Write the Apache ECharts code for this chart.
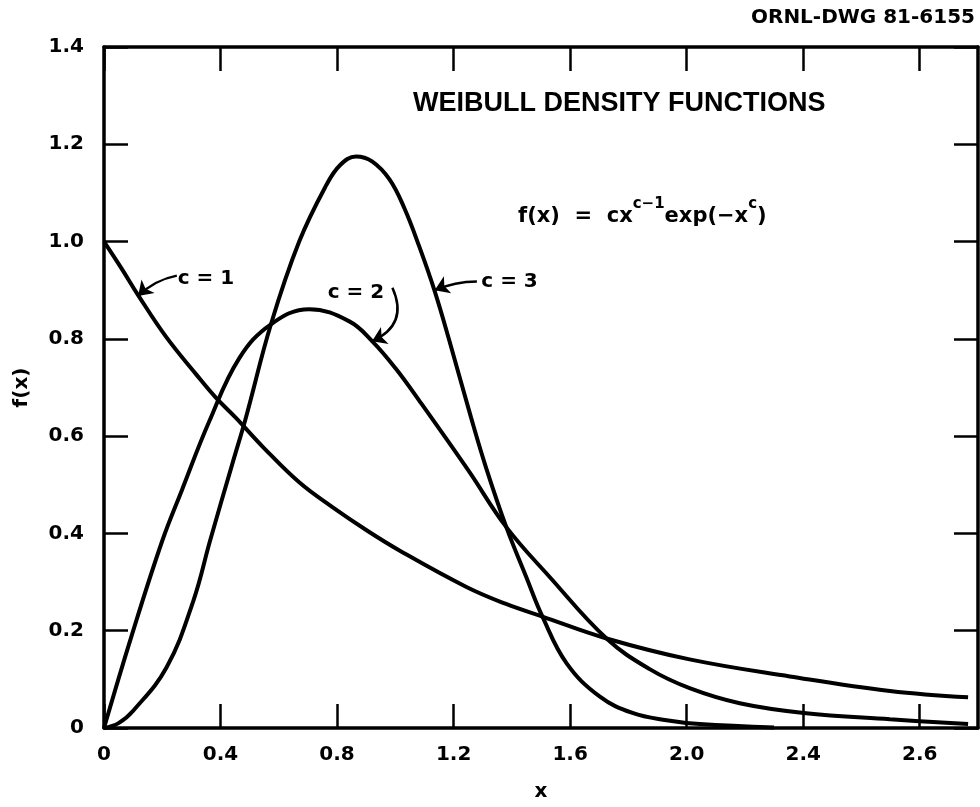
<!DOCTYPE html>
<html>
<head>
<meta charset="utf-8">
<script src="https://cdn.jsdelivr.net/npm/echarts@6/dist/echarts.min.js"></script>
<style>html,body{margin:0;padding:0;background:#fff}#main{width:980px;height:807px}</style>
</head>
<body>
<div id="main"></div>
<script>
// Values
var c1 = [[0,1.00],[0.06,0.945],[0.117,0.89],[0.212,0.805],[0.315,0.728],[0.384,0.679],[0.452,0.638],[0.55,0.575],[0.67,0.505],[0.784,0.454],[0.90,0.407],[1.014,0.365],[1.244,0.29],[1.38,0.255],[1.505,0.229],[1.725,0.184],[2.01,0.141],[2.354,0.106],[2.698,0.076],[2.966,0.063]];
var c2 = [[0,0],[0.095,0.19],[0.2,0.385],[0.268,0.49],[0.361,0.63],[0.464,0.76],[0.573,0.83],[0.704,0.861],[0.842,0.836],[0.921,0.795],[1.0,0.74],[1.082,0.673],[1.25,0.53],[1.381,0.413],[1.529,0.311],[1.725,0.184],[1.873,0.121],[2.01,0.082],[2.182,0.051],[2.402,0.031],[2.698,0.018],[2.966,0.008]];
var c3 = [[0,0],[0.05,0.01],[0.101,0.036],[0.215,0.125],[0.307,0.262],[0.364,0.385],[0.44,0.542],[0.487,0.638],[0.573,0.83],[0.67,1.0],[0.762,1.115],[0.81,1.157],[0.865,1.175],[0.92,1.165],[0.98,1.128],[1.03,1.07],[1.082,0.99],[1.134,0.90],[1.186,0.795],[1.26,0.638],[1.311,0.536],[1.381,0.413],[1.449,0.311],[1.505,0.229],[1.588,0.133],[1.701,0.065],[1.814,0.031],[1.931,0.016],[2.045,0.008],[2.3,0.001]];
var xTicks = [0,0.4,0.8,1.2,1.6,2.0,2.4,2.8];
var xTickLabels = ['0','0.4','0.8','1.2','1.6','2.0','2.4','2.6'];
var yTickLabels = ['0','0.2','0.4','0.6','0.8','1.0','1.2','1.4'];
// curve labels: text, label position, arrow start, arrow tip, arrow bend
var curveLabels = ['c = 1','c = 2','c = 3'];
var labelPos = [[0.35,0.924],[0.865,0.894],[1.392,0.918]];
var arrowFrom = [[0.25,0.93],[0.99,0.905],[1.28,0.918]];
var arrowTo = [[0.117,0.888],[0.92,0.795],[1.135,0.9]];
var arrowBend = [-0.15,0.5,-0.1];

function lab(){ return {fontFamily:'DejaVu Sans', fontWeight:'bold', fontSize:20, color:'#000'}; }
function axLine(){ return {onZero:false, lineStyle:{color:'#000', width:3.5}}; }
function axTick(extra){ var t = {inside:true, length:24, lineStyle:{color:'#000', width:2.5}}; return Object.assign(t, extra||{}); }

function annot(text, pos){
  return {coord:pos, symbol:'circle', symbolSize:0, label:{show:true, position:'inside', formatter:text, fontFamily:'DejaVu Sans', fontWeight:'bold', fontSize:20, color:'#000'}};
}
function mkSeries(name, data, annots){
  return {
    type:'line', name:name, data:data, showSymbol:false, smooth:0.4,
    lineStyle:{color:'#000', width:4}, silent:true,
    markPoint:{silent:true, data:annots}
  };
}

var series = [
  mkSeries('c = 1', c1, [annot(curveLabels[0], labelPos[0])]),
  mkSeries('c = 2', c2, [annot(curveLabels[1], labelPos[1])]),
  mkSeries('c = 3', c3, [annot(curveLabels[2], labelPos[2])])
];
for (var i = 0; i < 3; i++) {
  series.push({
    type:'lines', coordinateSystem:'cartesian2d', silent:true, z:5,
    symbol:['none','arrow'], symbolSize:[11,14],
    lineStyle:{color:'#000', width:2.5, opacity:1, curveness:arrowBend[i]},
    data:[{coords:[arrowFrom[i], arrowTo[i]]}]
  });
}

var chart = echarts.init(document.getElementById('main'));
chart.setOption({
  animation:false,
  backgroundColor:'#fff',
  title:[
    {text:'ORNL-DWG 81-6155', right:5, top:8, padding:0, textStyle:{fontFamily:'DejaVu Sans', fontWeight:'bold', fontSize:20, color:'#000'}},
    {text:'WEIBULL DENSITY FUNCTIONS', left:413, top:90, padding:0, textStyle:{fontFamily:'Liberation Sans', fontWeight:'bold', fontSize:27, color:'#000'}},
    {text:'{b|f(x)  =  cx}{s|c\u22121}{b|exp(\u2212x}{s|c}{b|)}', left:518, top:197, padding:0,
     textStyle:{rich:{
       b:{fontFamily:'DejaVu Sans', fontWeight:'bold', fontSize:21, color:'#000', lineHeight:30, verticalAlign:'bottom'},
       s:{fontFamily:'DejaVu Sans', fontWeight:'bold', fontSize:15, color:'#000', lineHeight:30, verticalAlign:'top'}
     }}}
  ],
  grid:{left:104, right:2, top:47, bottom:75},
  xAxis:[
    {type:'value', min:0, max:3, position:'bottom', axisLine:axLine(), axisTick:axTick({customValues:xTicks}),
     axisLabel:Object.assign({customValues:xTicks, margin:17, formatter:function(v){var i=xTicks.indexOf(Math.round(v*10)/10);return i>=0?xTickLabels[i]:'';}}, lab()),
     splitLine:{show:false}, name:'x', nameLocation:'middle', nameGap:54, nameTextStyle:lab()},
    {type:'value', min:0, max:3, position:'top', axisLine:axLine(), axisTick:axTick({customValues:xTicks}),
     axisLabel:{show:false}, splitLine:{show:false}}
  ],
  yAxis:[
    {type:'value', min:0, max:1.4, interval:0.2, position:'left', axisLine:axLine(), axisTick:axTick(),
     axisLabel:Object.assign({margin:20, formatter:function(v){return yTickLabels[Math.round(v/0.2)];}}, lab()),
     splitLine:{show:false}, name:'f(x)', nameLocation:'middle', nameGap:72, nameTextStyle:lab()},
    {type:'value', min:0, max:1.4, interval:0.2, position:'right', axisLine:axLine(), axisTick:axTick(),
     axisLabel:{show:false}, splitLine:{show:false}}
  ],
  series:series
});
</script>
</body>
</html>
